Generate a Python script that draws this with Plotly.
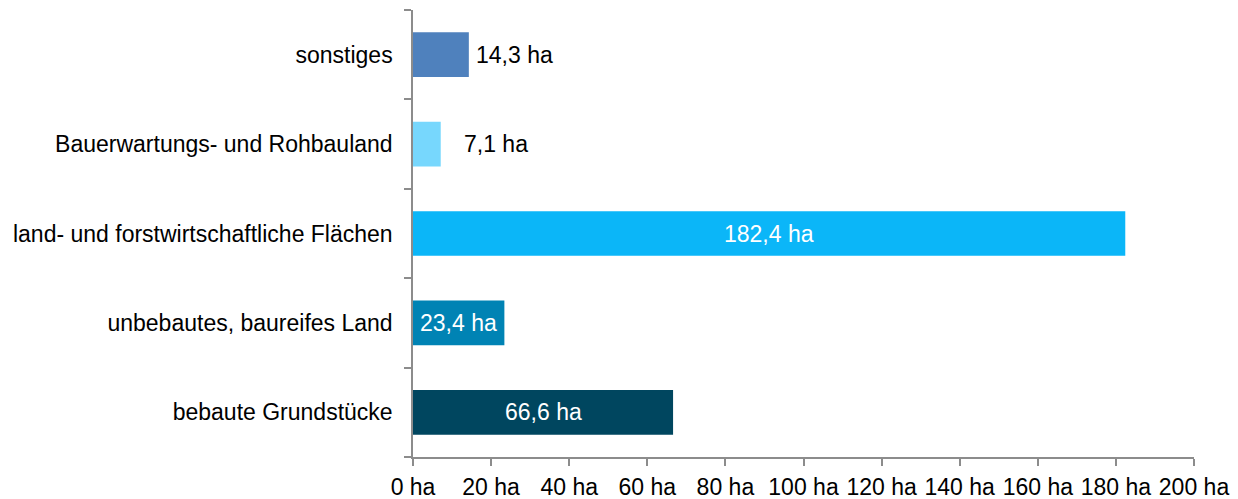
import plotly.graph_objects as go

categories = ["bebaute Grundstücke", "unbebautes, baureifes Land",
              "land- und forstwirtschaftliche Flächen",
              "Bauerwartungs- und Rohbauland", "sonstiges"]
values = [66.6, 23.4, 182.4, 7.1, 14.3]
colors = ["#00465F", "#0083B4", "#0BB6F8", "#77D7FD", "#4F81BD"]
label_inside = [True, True, True, False, False]
label_shift = [0, 0, 0, 21, 5]
tick_vals = [0, 20, 40, 60, 80, 100, 120, 140, 160, 180, 200]
tick_text = [f"{v} ha" for v in tick_vals]

def fmt(v):
    return f"{v:.1f}".replace(".", ",") + " ha"

fig = go.Figure(go.Bar(
    y=categories, x=values, orientation="h",
    marker=dict(color=colors, line=dict(width=0)),
    hoverinfo="skip",
))

font = "Liberation Sans, Arial, sans-serif"
FS = 23
for c, v, ins, sh in zip(categories, values, label_inside, label_shift):
    if ins:
        fig.add_annotation(x=v / 2, y=c, text=fmt(v), showarrow=False,
                           xanchor="center", font=dict(color="white", size=FS, family=font))
    else:
        fig.add_annotation(x=v, y=c, text=fmt(v), showarrow=False,
                           xanchor="left", xshift=sh,
                           font=dict(color="black", size=FS, family=font))

# page body has an 8px margin, so the figure is drawn 8px in from the corner
fig.update_layout(
    width=1230, height=491,
    margin=dict(l=405, r=44, t=2, b=42, pad=0, autoexpand=False),
    paper_bgcolor="white", plot_bgcolor="white",
    bargap=0.5, showlegend=False,
    font=dict(family=font, size=FS, color="black"),
)
fig.update_xaxes(range=[0, 200], tickvals=tick_vals, ticktext=tick_text,
                 showgrid=False, zeroline=False, showline=True,
                 linecolor="#8C8C8C", linewidth=1.5, automargin=False,
                 ticks="outside", ticklen=7, tickcolor="#8C8C8C", tickwidth=1.5,
                 ticklabelstandoff=2,
                 tickfont=dict(size=FS), fixedrange=True)
fig.update_yaxes(showgrid=False, zeroline=False, showline=True,
                 linecolor="#8C8C8C", linewidth=1.5, automargin=False,
                 ticks="outside", ticklen=7, tickcolor="#8C8C8C", tickwidth=1.5,
                 tickson="boundaries", ticklabelstandoff=14,
                 tickfont=dict(size=FS), fixedrange=True)

fig.write_html("out.html")
